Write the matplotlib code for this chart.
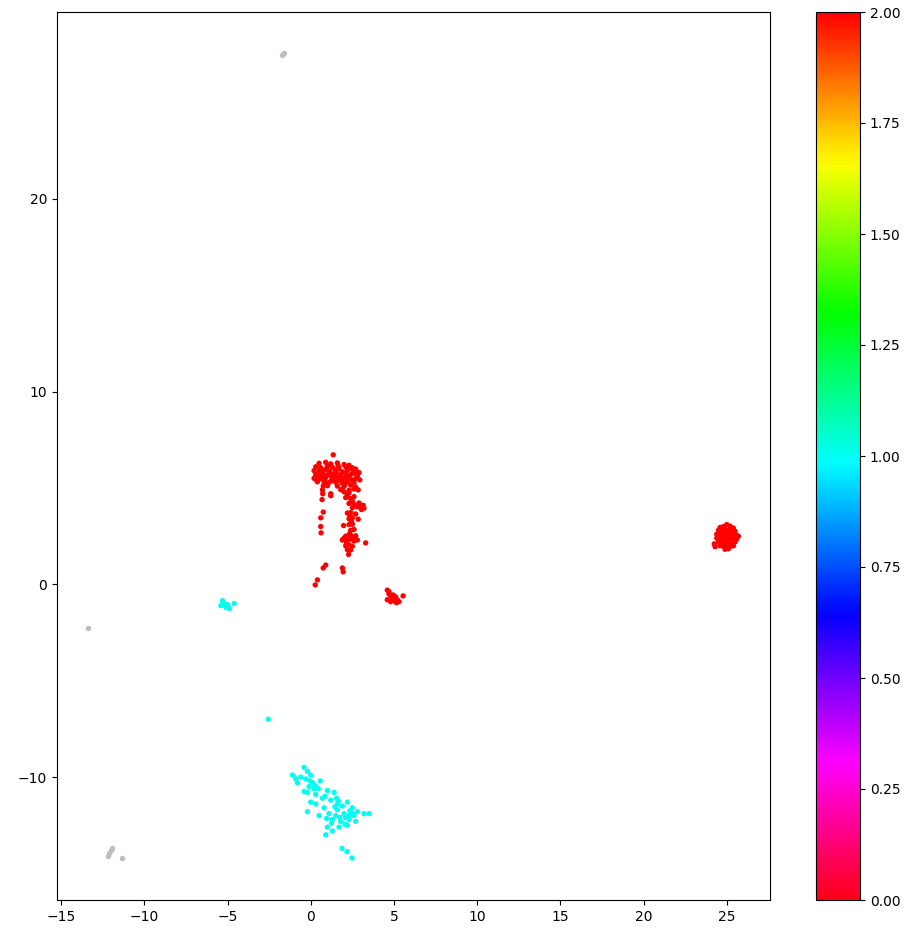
import matplotlib
matplotlib.use("Agg")
import matplotlib.pyplot as plt
import numpy as np

# ---- cluster data (label 2 = red, label 1 = cyan, noise = grey) ----
red_main_x = [1.35, 0.5, 0.9, 1.2, 1.6, 2.0, 2.3,
              0.3, 0.6, 1.0, 1.3, 1.7, 2.1, 2.5, 2.7,
              0.2, 0.5, 0.8, 1.1, 1.5, 1.9, 2.2, 2.6, 2.9,
              0.3, 0.7, 1.0, 1.4, 1.8, 2.1, 2.4, 2.8,
              0.2, 0.6, 0.9, 1.3, 1.6, 2.0, 2.3, 2.7, 2.95,
              0.4, 0.8, 1.2, 1.5, 1.9, 2.2, 2.6,
              1.0, 1.6, 2.0, 2.4, 2.7,
              1.8, 2.3, 2.6, 2.85, 0.75, 1.2, 0.45, 1.45, 2.15,
              0.35, 0.65, 1.15, 1.55, 1.75, 2.45, 0.95, 1.25, 2.05, 2.55,
              0.55, 0.85, 1.4, 2.35, 1.85, 2.75, 1.05, 1.65]
red_main_y = [6.72, 6.28, 6.33, 6.25, 6.3, 6.22, 6.18,
              6.1, 6.05, 6.12, 6.08, 6.02, 6.1, 6.05, 5.98,
              5.9, 5.85, 5.92, 5.88, 5.9, 5.84, 5.93, 5.87, 5.8,
              5.7, 5.75, 5.68, 5.72, 5.66, 5.74, 5.7, 5.63,
              5.5, 5.48, 5.55, 5.45, 5.52, 5.47, 5.55, 5.5, 5.42,
              5.32, 5.28, 5.35, 5.3, 5.25, 5.33, 5.28,
              5.12, 5.1, 5.08, 5.15, 5.05,
              4.92, 4.88, 4.95, 4.9, 5.1, 4.7, 5.6, 5.95, 5.6,
              5.4, 5.6, 5.8, 5.78, 5.38, 5.42, 5.98, 5.58, 5.2, 5.78,
              5.95, 5.4, 5.62, 6.0, 5.55, 5.75, 5.25, 6.15]

red_stream_x = [2.0, 2.3, 2.1, 2.4, 2.6, 2.3, 2.6, 2.9, 3.15, 2.5, 2.8, 3.2,
                2.2, 2.4, 2.7, 2.3, 2.5, 2.85, 1.97, 2.3, 2.5, 2.4, 2.6,
                2.1, 2.3, 2.5, 2.7, 1.9, 2.2, 2.4, 2.6, 2.8, 3.3,
                2.1, 2.3, 2.5, 2.2, 2.4, 2.27,
                2.2, 2.5, 2.95, 3.05, 2.35, 2.45, 2.0, 2.15, 2.35, 2.55]
red_stream_y = [4.8, 4.75, 4.5, 4.45, 4.55, 4.2, 4.15, 4.22, 4.1, 3.98, 4.02, 3.95,
                3.7, 3.72, 3.65, 3.4, 3.45, 3.38, 3.05, 3.1, 3.12, 2.8, 2.85,
                2.5, 2.55, 2.48, 2.52, 2.3, 2.28, 2.35, 2.25, 2.3, 2.15,
                2.0, 2.05, 1.98, 1.8, 1.78, 1.55,
                4.62, 4.3, 4.05, 3.88, 3.55, 3.25, 2.4, 2.18, 2.65, 2.38]

red_out_x = [0.7, 0.72, 0.68, 1.2, 0.75, 0.6, 0.6, 0.62, 0.9, 0.75, 1.9, 1.95, 0.4, 0.27]
red_out_y = [4.9, 4.7, 4.4, 4.6, 3.75, 3.45, 3.0, 2.67, 1.0, 0.85, 0.85, 0.65, 0.23, -0.03]

red_small_x = [4.6, 4.7, 4.8, 4.6, 4.9, 5.0, 5.2, 5.3, 4.8, 5.1, 5.55, 4.7, 4.95, 5.15]
red_small_y = [-0.3, -0.5, -0.6, -0.8, -0.75, -0.85, -0.8, -0.9, -0.9, -0.65, -0.6, -0.38, -0.55, -0.95]

red_blob_x = [25.0, 24.6, 24.8, 25.2, 25.4, 24.5, 24.7, 24.9, 25.1, 25.3, 25.5,
              24.4, 24.6, 24.8, 25.0, 25.2, 25.4, 25.6,
              24.4, 24.6, 24.8, 25.0, 25.2, 25.4, 25.6,
              24.5, 24.7, 24.9, 25.1, 25.3, 25.5,
              24.6, 24.8, 25.0, 25.2, 25.4, 24.9, 25.1, 24.25, 24.3, 25.7]
red_blob_y = [3.1, 2.95, 3.0, 3.02, 2.92, 2.8, 2.82, 2.85, 2.8, 2.83, 2.75,
              2.6, 2.62, 2.58, 2.65, 2.6, 2.63, 2.55,
              2.4, 2.38, 2.42, 2.45, 2.4, 2.37, 2.35,
              2.2, 2.18, 2.22, 2.2, 2.15, 2.2,
              2.0, 1.98, 2.02, 1.95, 2.0, 1.82, 1.85, 2.1, 1.95, 2.5]

cyan_small_x = [-5.3, -5.2, -5.4, -5.0, -4.9, -4.6, -5.1, -5.25, -2.55]
cyan_small_y = [-0.85, -1.0, -1.1, -1.05, -1.25, -1.0, -1.2, -0.95, -7.0]

cyan_main_x = [-0.4, -0.2, 0.0, -0.3, 0.1, -0.1, -1.1, -0.8, 0.57, -0.4, -0.2,
               0.0, 0.3, 1.0, 1.4, 1.2, 1.6, 0.8, 1.1, 1.6, 1.9, 2.2, 2.5, 2.6, 2.1,
               1.3, 1.5, 1.8, 2.0, 2.3, 2.5, -0.2, 0.5, 3.2, 3.5, 0.9, 1.3, 2.2,
               1.88, 2.18, 2.48, 0.3, 0.7, 1.7, 2.7, 0.2,
               -0.6, -0.05, 0.25, 0.45, 0.85, 1.45, 1.75, 2.05, 2.35, 1.25, 1.55, 0.95,
               2.8, 1.0, 1.65, 2.3, -0.9]
cyan_main_y = [-9.5, -9.7, -9.9, -10.1, -10.3, -10.5, -9.9, -10.3, -10.2, -10.75, -10.8,
               -11.3, -11.4, -10.7, -10.8, -11.2, -11.4, -11.6, -11.9, -11.7, -11.5, -11.3,
               -11.6, -12.0, -12.1, -12.2, -12.0, -12.3, -11.9, -12.2, -11.9, -11.8, -12.0,
               -11.9, -11.9, -13.0, -12.8, -12.5, -13.7, -13.87, -14.2, -10.9, -11.1,
               -12.6, -12.3, -10.6,
               -10.0, -10.2, -10.45, -10.6, -11.0, -11.55, -12.1, -12.45, -11.75, -12.4,
               -11.1, -12.15, -11.8, -12.6, -11.25, -12.0, -10.1]

grey_x = [-13.4, -12.2, -12.1, -12.0, -11.95, -11.35, -1.67, -1.6, -1.72]
grey_y = [-2.28, -14.1, -13.95, -13.8, -13.7, -14.2, 27.5, 27.55, 27.45]

# ---- assemble ----
red_x = red_main_x + red_stream_x + red_out_x + red_small_x + red_blob_x
red_y = red_main_y + red_stream_y + red_out_y + red_small_y + red_blob_y
cyan_x = cyan_small_x + cyan_main_x
cyan_y = cyan_small_y + cyan_main_y

xs = np.array(red_x + cyan_x, dtype=float)
ys = np.array(red_y + cyan_y, dtype=float)
labels = np.array([2] * len(red_x) + [1] * len(cyan_x), dtype=float)

fig = plt.figure(figsize=(9.08, 9.31), dpi=100)
ax = fig.add_axes([57 / 908, 31 / 931, 713 / 908, 888 / 931])
cax = fig.add_axes([816 / 908, 31 / 931, 44 / 908, 888 / 931])

ax.scatter(grey_x, grey_y, s=15, c='#bdbdbd', linewidths=0)
sc = ax.scatter(xs, ys, s=15, c=labels, cmap='hsv_r', vmin=0, vmax=2, linewidths=0)
fig.colorbar(sc, cax=cax)

ax.set_xlim(-15.25, 27.6)
ax.set_ylim(-16.38, 29.7)
ax.set_xticks([-15, -10, -5, 0, 5, 10, 15, 20, 25])
ax.set_yticks([-10, 0, 10, 20])

fig.savefig("out.png", dpi=100)
